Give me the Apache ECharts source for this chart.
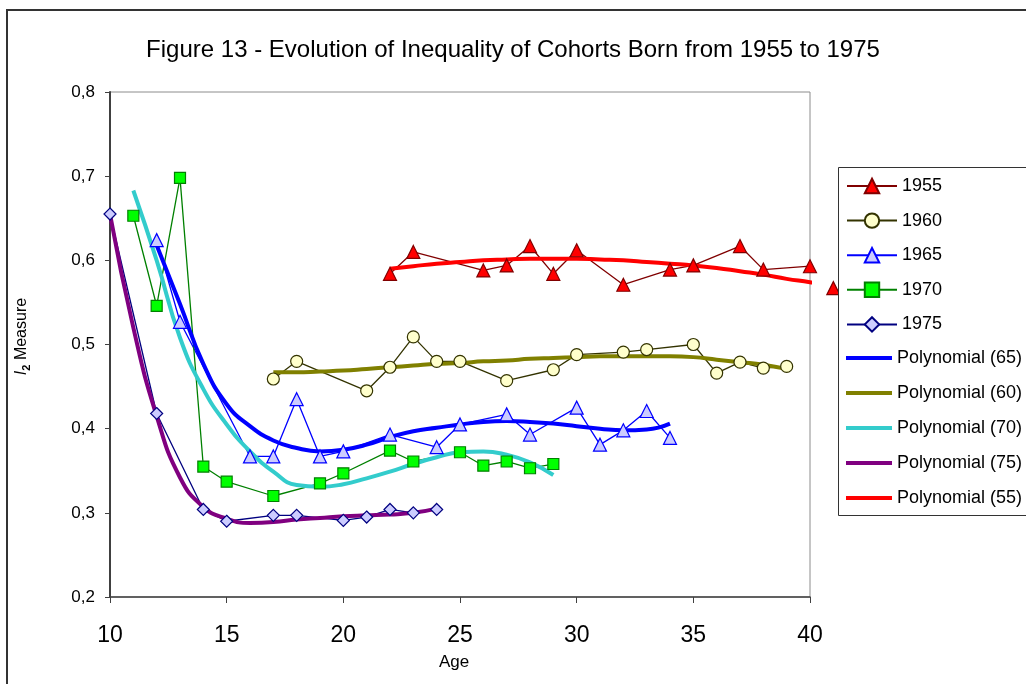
<!DOCTYPE html>
<html>
<head>
<meta charset="utf-8">
<script src="https://cdn.jsdelivr.net/npm/echarts@6/dist/echarts.min.js"></script>
<style>
  html, body { margin: 0; padding: 0; background: #fff; }
  #chart { width: 1026px; height: 684px; }
</style>
</head>
<body>
<div id="chart"></div>
<script>
// observed I2 values by age, one pair of arrays per birth cohort
const ages1955 = [22, 23, 26, 27, 28, 29, 30, 32, 34, 35, 37, 38, 40, 41];
const i1955 = [0.584, 0.610, 0.588, 0.594, 0.617, 0.584, 0.612, 0.571, 0.589, 0.594, 0.617, 0.589, 0.593, 0.567];

const ages1960 = [17, 18, 21, 22, 23, 24, 25, 27, 29, 30, 32, 33, 35, 36, 37, 38, 39];
const i1960 = [0.459, 0.480, 0.445, 0.473, 0.509, 0.480, 0.480, 0.457, 0.470, 0.488, 0.491, 0.494, 0.500, 0.466, 0.479, 0.472, 0.474];

const ages1965 = [12, 13, 16, 17, 18, 19, 20, 22, 24, 25, 27, 28, 30, 31, 32, 33, 34];
const i1965 = [0.624, 0.527, 0.367, 0.367, 0.435, 0.367, 0.373, 0.393, 0.378, 0.405, 0.417, 0.393, 0.425, 0.381, 0.398, 0.421, 0.389];

const ages1970 = [11, 12, 13, 14, 15, 17, 19, 20, 22, 23, 25, 26, 27, 28, 29];
const i1970 = [0.653, 0.546, 0.698, 0.355, 0.337, 0.320, 0.335, 0.347, 0.374, 0.361, 0.372, 0.356, 0.361, 0.353, 0.358];

const ages1975 = [10, 12, 14, 15, 17, 18, 20, 21, 22, 23, 24];
const i1975 = [0.655, 0.418, 0.304, 0.290, 0.297, 0.297, 0.291, 0.295, 0.304, 0.300, 0.304];

// polynomial trend lines at whole ages
const trendAges65 = [12, 13, 14, 15, 16, 17, 18, 19, 20, 21, 22, 23, 24, 25, 26, 27, 28, 29, 30, 31, 32, 33, 34];
const trend65 = [0.618, 0.548, 0.477, 0.429, 0.403, 0.386, 0.377, 0.373, 0.375, 0.381, 0.390, 0.397, 0.401, 0.405, 0.408, 0.409, 0.408, 0.406, 0.403, 0.400, 0.398, 0.399, 0.406];

const trendAges60 = [17, 18, 19, 20, 21, 22, 23, 24, 25, 26, 27, 28, 29, 30, 31, 32, 33, 34, 35, 36, 37, 38, 39];
const trend60 = [0.467, 0.467, 0.468, 0.469, 0.471, 0.473, 0.475, 0.477, 0.478, 0.480, 0.481, 0.483, 0.484, 0.485, 0.486, 0.486, 0.486, 0.486, 0.485, 0.482, 0.479, 0.476, 0.471];

const trendAges70 = [11, 12, 13, 14, 15, 16, 17, 18, 19, 20, 21, 22, 23, 24, 25, 26, 27, 28, 29];
const trend70 = [0.683, 0.600, 0.508, 0.447, 0.405, 0.373, 0.349, 0.333, 0.331, 0.334, 0.341, 0.349, 0.358, 0.366, 0.372, 0.373, 0.369, 0.360, 0.345];

const trendAges75 = [10, 11, 12, 13, 14, 15, 16, 17, 18, 19, 20, 21, 22, 23, 24];
const trend75 = [0.655, 0.520, 0.415, 0.342, 0.307, 0.293, 0.288, 0.289, 0.292, 0.294, 0.296, 0.297, 0.298, 0.300, 0.305];

const trendAges55 = [22, 23, 24, 25, 26, 27, 28, 29, 30, 31, 32, 33, 34, 35, 36, 37, 38, 39, 40, 41];
const trend55 = [0.590, 0.593, 0.596, 0.598, 0.600, 0.601, 0.602, 0.602, 0.602, 0.601, 0.600, 0.598, 0.596, 0.594, 0.591, 0.587, 0.583, 0.578, 0.574, 0.569];

const FONT = 'Liberation Sans, Arial, sans-serif';

function pairs(xs, ys) {
    return xs.map((x, i) => [x, ys[i]]);
}

function cohort(name, xs, ys, lineColor, fill, symbol, size) {
    return {
        name: name,
        type: 'line',
        data: pairs(xs, ys),
        symbol: symbol,
        symbolSize: size,
        clip: false,
        lineStyle: { color: lineColor, width: 1.3 },
        itemStyle: { color: fill, borderColor: lineColor, borderWidth: 1.2 },
        emphasis: { disabled: true },
        animation: false
    };
}

function trend(name, xs, ys, color) {
    return {
        name: name,
        type: 'line',
        data: pairs(xs, ys),
        smooth: true,
        symbol: 'none',
        clip: false,
        lineStyle: { color: color, width: 4 },
        itemStyle: { color: color },
        emphasis: { disabled: true },
        animation: false
    };
}

const legendText = { color: '#000', fontSize: 18, lineHeight: 18, fontFamily: FONT };

const option = {
    backgroundColor: '#fff',
    title: {
        text: 'Figure 13 - Evolution of Inequality of Cohorts Born from 1955 to 1975',
        left: 'center',
        top: 33,
        textStyle: { fontSize: 24, fontWeight: 'normal', color: '#000', fontFamily: FONT }
    },
    graphic: [
        {
            type: 'rect',
            shape: { x: 7, y: 10, width: 1100, height: 800 },
            style: { fill: 'none', stroke: '#333', lineWidth: 2 },
            silent: true
        },
        {
            type: 'rect',
            shape: { x: 838.5, y: 167.5, width: 250, height: 348 },
            style: { fill: '#fff', stroke: '#333', lineWidth: 1 },
            silent: true,
            z: 5
        }
    ],
    legend: [
        {
            orient: 'vertical',
            left: 846,
            top: 177,
            padding: 0,
            itemWidth: 50,
            itemHeight: 18,
            itemGap: 16.6,
            textStyle: legendText,
            z: 10,
            data: ['1955', '1960', '1965', '1970', '1975']
        },
        {
            orient: 'vertical',
            left: 846,
            top: 349,
            padding: 0,
            itemWidth: 46,
            itemHeight: 4,
            itemGap: 17.0,
            icon: 'rect',
            textStyle: legendText,
            z: 10,
            data: ['Polynomial (65)', 'Polynomial (60)', 'Polynomial (70)', 'Polynomial (75)', 'Polynomial (55)']
        }
    ],
    grid: {
        left: 110,
        top: 92,
        right: 216,
        bottom: 87,
        show: true,
        borderColor: '#8c8c8c',
        borderWidth: 1,
        backgroundColor: 'transparent'
    },
    xAxis: {
        type: 'value',
        min: 10,
        max: 40,
        interval: 5,
        name: 'Age',
        nameLocation: 'middle',
        nameGap: 57,
        nameTextStyle: { fontSize: 17, color: '#000', fontFamily: FONT, padding: [0, 12, 0, 0] },
        axisLine: { lineStyle: { color: '#404040', width: 1.5 } },
        axisTick: { show: true, length: 6, lineStyle: { color: '#404040' } },
        axisLabel: { fontSize: 23, color: '#000', margin: 27, fontFamily: FONT },
        splitLine: { show: false }
    },
    yAxis: {
        type: 'value',
        min: 0.2,
        max: 0.8,
        interval: 0.1,
        name: '{i|I}{s|2} Measure',
        nameLocation: 'middle',
        nameRotate: 90,
        nameGap: 78,
        nameTextStyle: {
            fontSize: 16,
            color: '#000',
            fontFamily: FONT,
            padding: [0, 0, 0, 16],
            rich: {
                i: { fontSize: 16, fontStyle: 'italic', fontFamily: FONT },
                s: { fontSize: 11, fontWeight: 'bold', fontFamily: FONT, padding: [9, 0, 0, 0] }
            }
        },
        axisLine: { show: true, lineStyle: { color: '#404040', width: 2 } },
        axisTick: { show: true, length: 5, lineStyle: { color: '#404040' } },
        axisLabel: {
            fontSize: 17,
            color: '#000',
            margin: 15,
            fontFamily: FONT,
            formatter: v => v.toFixed(1).replace('.', ',')
        },
        splitLine: { show: false }
    },
    series: [
        cohort('1955', ages1955, i1955, '#800000', '#ff0000', 'triangle', 13),
        cohort('1960', ages1960, i1960, '#333300', '#ffffcc', 'circle', 12),
        cohort('1965', ages1965, i1965, '#0000ff', '#ccccff', 'triangle', 13),
        cohort('1970', ages1970, i1970, '#008000', '#00ff00', 'rect', 11),
        cohort('1975', ages1975, i1975, '#000080', '#ccccff', 'diamond', 12),
        trend('Polynomial (65)', trendAges65, trend65, '#0000ff'),
        trend('Polynomial (60)', trendAges60, trend60, '#808000'),
        trend('Polynomial (70)', trendAges70, trend70, '#33cccc'),
        trend('Polynomial (75)', trendAges75, trend75, '#800080'),
        trend('Polynomial (55)', trendAges55, trend55, '#ff0000')
    ]
};

echarts.init(document.getElementById('chart')).setOption(option);
</script>
</body>
</html>
